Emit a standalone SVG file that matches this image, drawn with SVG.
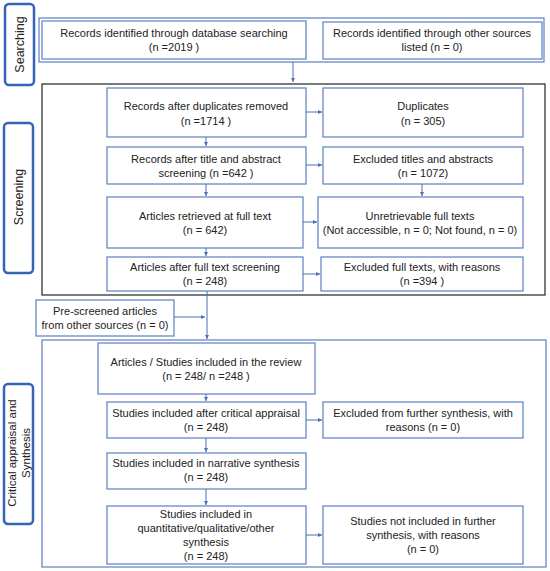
<svg xmlns="http://www.w3.org/2000/svg" width="550" height="571" viewBox="0 0 550 571">
<defs>
<style>
.b{fill:#fff;stroke:#5b7fbf;stroke-width:1.2}
.lab{fill:#fff;stroke:#3563b5;stroke-width:2.5}
.t{font-family:"Liberation Sans",Arial,sans-serif;font-size:11px;fill:#222;text-anchor:middle}
.c{fill:none;stroke:#4a70b8;stroke-width:1}
</style>
<marker id="a" viewBox="0 0 6 6" refX="6" refY="3" markerWidth="4" markerHeight="4" orient="auto"><path d="M0,0L6,3L0,6z" fill="#4a70b8"/></marker>
</defs>
<rect width="550" height="571" fill="#fff"/>
<!-- stage frames -->
<g id="frame-searching"><rect x="39" y="18" width="505" height="44" fill="none" stroke="#5b7fbf" stroke-width="1.2"/></g>
<g id="frame-screening"><rect x="42" y="84" width="503" height="211" fill="none" stroke="#222" stroke-width="1.2"/></g>
<g id="frame-critical"><rect x="42" y="340" width="504" height="227" fill="none" stroke="#5b7fbf" stroke-width="1.2"/></g>
<!-- stage labels -->
<g id="label-searching"><rect class="lab" x="5" y="4" width="29" height="81" rx="4"/><text class="t" transform="translate(24,44.5) rotate(-90)" style="font-size:12.5px">Searching</text></g>
<g id="label-screening"><rect class="lab" x="4" y="123" width="29" height="150" rx="4"/><text class="t" transform="translate(23,197) rotate(-90)" style="font-size:12.5px">Screening</text></g>
<g id="label-critical"><rect class="lab" x="4" y="384" width="29" height="140" rx="4"/><text class="t" transform="translate(15.5,453) rotate(-90)" style="font-size:11.5px">Critical appraisal and<tspan x="0" dy="14.5">Synthesis</tspan></text></g>
<!-- nodes -->
<g id="n-db"><rect class="b" x="42" y="21" width="264" height="38"/><text class="t" x="174" y="37">Records identified through database searching<tspan x="174" dy="14">(n =2019 )</tspan></text></g>
<g id="n-other"><rect class="b" x="323" y="22" width="219" height="37"/><text class="t" x="432" y="37">Records identified through other sources<tspan x="432" dy="14">listed (n = 0)</tspan></text></g>
<g id="n-dup-removed"><rect class="b" x="107" y="88" width="199" height="49"/><text class="t" x="206" y="110">Records after duplicates removed<tspan x="206" dy="15">(n =1714 )</tspan></text></g>
<g id="n-duplicates"><rect class="b" x="323" y="88" width="200" height="49"/><text class="t" x="423" y="110">Duplicates<tspan x="423" dy="15">(n = 305)</tspan></text></g>
<g id="n-title"><rect class="b" x="107" y="147" width="199" height="37"/><text class="t" x="206" y="163">Records after title and abstract<tspan x="206" dy="14">screening  (n =642 )</tspan></text></g>
<g id="n-excl-title"><rect class="b" x="323" y="147" width="200" height="37"/><text class="t" x="423" y="163">Excluded titles and abstracts<tspan x="423" dy="14">(n = 1072)</tspan></text></g>
<g id="n-retrieved"><rect class="b" x="107" y="197" width="196" height="51"/><text class="t" x="205" y="220">Articles retrieved at full text<tspan x="205" dy="14">(n = 642)</tspan></text></g>
<g id="n-unretr"><rect class="b" x="318" y="197" width="205" height="51"/><text class="t" x="420" y="220">Unretrievable full texts<tspan x="420" dy="14">(Not accessible, n = 0; Not found, n = 0)</tspan></text></g>
<g id="n-fulltext"><rect class="b" x="107" y="257" width="196" height="34"/><text class="t" x="205" y="271">Articles after full text screening<tspan x="205" dy="14">(n = 248)</tspan></text></g>
<g id="n-excl-full"><rect class="b" x="321" y="257" width="202" height="34"/><text class="t" x="422" y="271">Excluded full texts, with reasons<tspan x="422" dy="14">(n =394 )</tspan></text></g>
<g id="n-prescreened"><rect class="b" x="36" y="300" width="138" height="36"/><text class="t" x="105" y="315">Pre-screened articles<tspan x="105" dy="14">from other sources (n = 0)</tspan></text></g>
<g id="n-included"><rect class="b" x="98" y="343" width="217" height="51"/><text class="t" x="206" y="366">Articles / Studies included in the review<tspan x="206" dy="14">(n = 248/ n =248 )</tspan></text></g>
<g id="n-critical"><rect class="b" x="107" y="402" width="199" height="36"/><text class="t" x="206" y="417">Studies included after critical appraisal<tspan x="206" dy="14">(n = 248)</tspan></text></g>
<g id="n-excl-further"><rect class="b" x="323" y="402" width="200" height="36"/><text class="t" x="423" y="417">Excluded from further synthesis, with<tspan x="423" dy="14">reasons (n = 0)</tspan></text></g>
<g id="n-narrative"><rect class="b" x="107" y="453" width="199" height="36"/><text class="t" x="206" y="467">Studies included in narrative synthesis<tspan x="206" dy="14">(n = 248)</tspan></text></g>
<g id="n-quant"><rect class="b" x="107" y="506" width="199" height="58"/><text class="t" x="206" y="518">Studies included in<tspan x="206" dy="14">quantitative/qualitative/other</tspan><tspan x="206" dy="14">synthesis</tspan><tspan x="206" dy="14">(n = 248)</tspan></text></g>
<g id="n-not-incl"><rect class="b" x="323" y="506" width="200" height="58"/><text class="t" x="423" y="525">Studies not included in further<tspan x="423" dy="14">synthesis, with reasons</tspan><tspan x="423" dy="14">(n = 0)</tspan></text></g>
<!-- connectors -->
<g id="connectors" class="c">
<path class="c" d="M293,62V82" marker-end="url(#a)"/>
<path class="c" d="M306,112H322" marker-end="url(#a)"/>
<path class="c" d="M306,165H322" marker-end="url(#a)"/>
<path class="c" d="M303,222H317" marker-end="url(#a)"/>
<path class="c" d="M303,274H320" marker-end="url(#a)"/>
<path class="c" d="M206,137V146" marker-end="url(#a)"/>
<path class="c" d="M206,184V196" marker-end="url(#a)"/>
<path class="c" d="M206,248V256" marker-end="url(#a)"/>
<path class="c" d="M422,184V196" marker-end="url(#a)"/>
<path class="c" d="M207,291V339" marker-end="url(#a)"/>
<path class="c" d="M174,317H205" marker-end="url(#a)"/>
<path class="c" d="M206,394V401" marker-end="url(#a)"/>
<path class="c" d="M206,438V452" marker-end="url(#a)"/>
<path class="c" d="M206,489V505" marker-end="url(#a)"/>
<path class="c" d="M306,420H322" marker-end="url(#a)"/>
<path class="c" d="M306,535H322" marker-end="url(#a)"/>
</g>
</svg>
